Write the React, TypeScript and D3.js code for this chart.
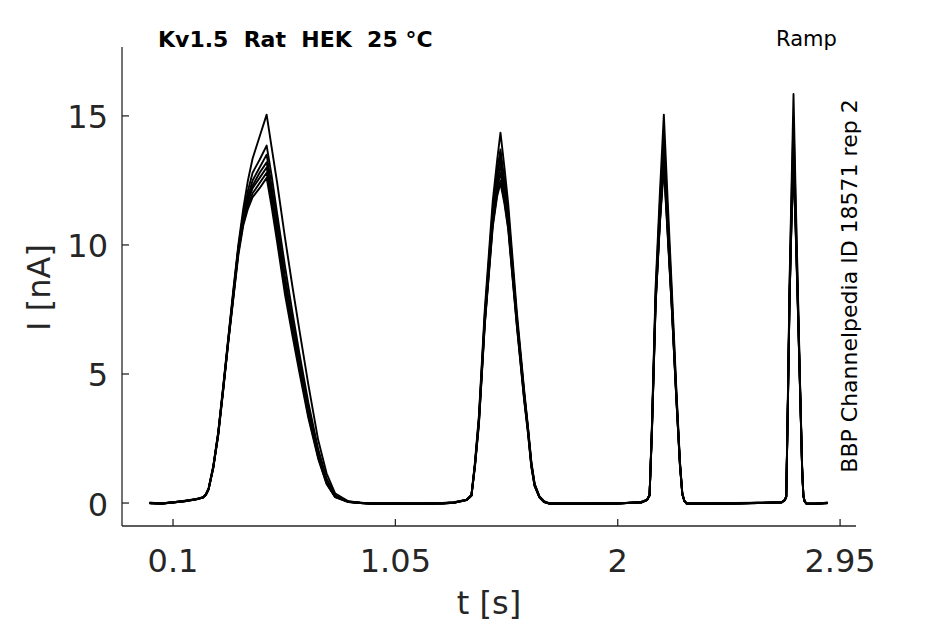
import React from "react";
import * as d3 from "d3";

const timeS = [
  0.0, 0.05, 0.1, 0.15, 0.2, 0.228, 0.24, 0.252, 0.272, 0.293, 0.315, 0.336, 0.358, 0.379, 0.4, 0.42, 0.44, 0.47, 0.5, 0.521, 0.545, 0.578, 0.61, 0.64, 0.678, 0.72, 0.756, 0.792, 0.849, 0.9, 0.95,
  1.05, 1.15, 1.25, 1.3, 1.354, 1.375, 1.39, 1.407, 1.432, 1.466, 1.485, 1.499, 1.516, 1.532, 1.569, 1.6, 1.616, 1.631, 1.645, 1.665, 1.685, 1.71,
  1.8, 1.9, 2.0, 2.1, 2.125, 2.136, 2.146, 2.162, 2.18, 2.197, 2.212, 2.23, 2.25, 2.266, 2.276, 2.285, 2.295,
  2.4, 2.5, 2.6, 2.7, 2.714, 2.72, 2.727, 2.734, 2.742, 2.751, 2.76, 2.769, 2.78, 2.788, 2.793, 2.798, 2.806, 2.85, 2.897,
];

const sweep1 = [
  0.01, -0.01, 0.02, 0.09, 0.16, 0.23, 0.34, 0.58, 1.45, 2.75, 4.6, 6.4, 8.3, 10.0, 11.4, 12.5, 13.35, 14.2, 15.05, 13.8, 12.4, 10.3, 8.4, 6.7, 4.6, 2.45, 1.15, 0.38, 0.07, 0.01, -0.01,
  -0.01, -0.02, 0.0, 0.03, 0.13, 0.32, 1.6, 3.4, 7.5, 11.7, 13.3, 14.35, 13.0, 11.6, 7.4, 4.4, 3.0, 1.6, 0.75, 0.27, 0.07, -0.01,
  -0.02, -0.01, -0.02, 0.04, 0.13, 0.32, 3.0, 8.4, 12.0, 15.05, 12.0, 8.5, 4.5, 1.6, 0.38, 0.09, -0.01,
  -0.01, 0.0, 0.01, 0.04, 0.13, 0.27, 4.2, 8.5, 12.0, 15.85, 12.0, 8.5, 4.3, 1.4, 0.32, 0.09, -0.01, -0.02, 0.01,
];
const sweep2 = [
  0.0, -0.03, 0.02, 0.07, 0.14, 0.21, 0.31, 0.54, 1.38, 2.7, 4.5, 6.35, 8.2, 9.9, 11.2, 12.1, 12.8, 13.3, 13.85, 12.7, 11.2, 9.2, 7.4, 5.8, 3.9, 2.1, 0.95, 0.31, 0.06, 0.0, -0.03,
  -0.03, -0.02, -0.02, 0.01, 0.11, 0.29, 1.5, 3.3, 7.3, 11.4, 12.9, 13.7, 12.5, 11.3, 7.2, 4.3, 2.95, 1.55, 0.72, 0.26, 0.05, -0.03,
  -0.02, -0.03, -0.01, 0.02, 0.11, 0.31, 2.9, 8.2, 11.6, 14.3, 11.5, 8.2, 4.35, 1.55, 0.36, 0.07, -0.03,
  -0.03, -0.02, 0.0, 0.02, 0.11, 0.26, 4.0, 8.3, 11.6, 14.9, 11.5, 8.3, 4.2, 1.35, 0.31, 0.07, -0.03, -0.02, -0.01,
];
const sweep3 = [
  -0.01, -0.02, 0.03, 0.08, 0.15, 0.22, 0.32, 0.55, 1.4, 2.7, 4.5, 6.3, 8.15, 9.85, 11.1, 11.9, 12.5, 13.0, 13.5, 12.3, 10.9, 8.8, 7.1, 5.55, 3.7, 1.95, 0.85, 0.28, 0.05, 0.01, -0.02,
  -0.02, -0.03, -0.01, 0.02, 0.12, 0.3, 1.5, 3.25, 7.2, 11.2, 12.7, 13.4, 12.3, 11.1, 7.15, 4.25, 2.9, 1.5, 0.7, 0.25, 0.05, -0.02,
  -0.03, -0.02, -0.02, 0.03, 0.12, 0.3, 2.85, 8.0, 11.3, 13.9, 11.2, 8.0, 4.25, 1.5, 0.35, 0.08, -0.02,
  -0.02, -0.01, 0.0, 0.03, 0.12, 0.25, 3.95, 8.1, 11.2, 14.2, 11.1, 8.0, 4.15, 1.3, 0.3, 0.08, -0.02, -0.03, 0.0,
];
const sweep4 = [
  0.0, -0.02, 0.03, 0.08, 0.15, 0.22, 0.32, 0.55, 1.4, 2.7, 4.5, 6.3, 8.1, 9.8, 11.0, 11.7, 12.2, 12.6, 13.0, 11.9, 10.5, 8.5, 6.8, 5.3, 3.5, 1.85, 0.8, 0.26, 0.05, 0.0, -0.02,
  -0.02, -0.03, -0.01, 0.02, 0.12, 0.3, 1.5, 3.2, 7.1, 11.0, 12.4, 13.1, 12.1, 11.0, 7.1, 4.2, 2.9, 1.5, 0.7, 0.25, 0.06, -0.02,
  -0.03, -0.02, -0.02, 0.03, 0.12, 0.3, 2.8, 7.9, 11.0, 13.6, 11.0, 7.9, 4.2, 1.5, 0.35, 0.08, -0.02,
  -0.02, -0.01, 0.0, 0.03, 0.12, 0.25, 3.9, 7.9, 10.9, 13.5, 10.8, 7.9, 4.1, 1.3, 0.3, 0.08, -0.02, -0.03, 0.0,
];
const sweep5 = [
  0.01, -0.02, 0.02, 0.07, 0.14, 0.21, 0.31, 0.53, 1.37, 2.65, 4.45, 6.25, 8.05, 9.75, 10.95, 11.75, 12.3, 12.8, 13.2, 12.0, 10.6, 8.55, 6.85, 5.35, 3.55, 1.88, 0.8, 0.26, 0.05, 0.0, -0.03,
  -0.03, -0.02, -0.02, 0.01, 0.11, 0.29, 1.45, 3.15, 7.0, 10.9, 12.2, 12.8, 11.9, 10.8, 7.0, 4.1, 2.85, 1.45, 0.68, 0.24, 0.05, -0.03,
  -0.02, -0.03, -0.01, 0.02, 0.11, 0.29, 2.75, 7.8, 10.9, 13.3, 10.8, 7.8, 4.15, 1.45, 0.34, 0.07, -0.03,
  -0.03, -0.02, 0.01, 0.02, 0.11, 0.24, 3.85, 7.85, 10.8, 13.2, 10.7, 7.8, 4.05, 1.28, 0.29, 0.07, -0.03, -0.02, 0.01,
];
const sweep6 = [
  0.0, -0.03, 0.03, 0.08, 0.15, 0.22, 0.32, 0.54, 1.38, 2.65, 4.45, 6.25, 8.0, 9.7, 10.85, 11.55, 12.0, 12.4, 12.8, 11.7, 10.3, 8.3, 6.65, 5.2, 3.4, 1.78, 0.76, 0.24, 0.04, 0.0, -0.02,
  -0.02, -0.03, -0.01, 0.02, 0.12, 0.3, 1.45, 3.1, 6.95, 10.8, 12.0, 12.5, 11.7, 10.7, 6.9, 4.05, 2.8, 1.4, 0.66, 0.23, 0.04, -0.02,
  -0.03, -0.02, -0.02, 0.03, 0.12, 0.29, 2.7, 7.7, 10.8, 13.0, 10.6, 7.7, 4.1, 1.42, 0.33, 0.07, -0.02,
  -0.02, -0.03, 0.0, 0.03, 0.12, 0.24, 3.8, 7.8, 10.7, 13.0, 10.6, 7.7, 4.0, 1.25, 0.28, 0.07, -0.02, -0.03, 0.0,
];
const sweep7 = [
  -0.01, -0.02, 0.02, 0.07, 0.14, 0.21, 0.31, 0.53, 1.35, 2.6, 4.4, 6.2, 7.95, 9.6, 10.75, 11.4, 11.85, 12.2, 12.6, 11.5, 10.1, 8.1, 6.5, 5.05, 3.3, 1.72, 0.74, 0.23, 0.04, 0.01, -0.03,
  -0.03, -0.02, -0.02, 0.01, 0.11, 0.28, 1.4, 3.05, 6.9, 10.7, 11.9, 12.4, 11.6, 10.6, 6.85, 4.0, 2.75, 1.4, 0.65, 0.22, 0.04, -0.03,
  -0.02, -0.03, -0.01, 0.02, 0.11, 0.3, 2.75, 7.75, 10.9, 13.2, 10.7, 7.75, 4.1, 1.43, 0.33, 0.07, -0.03,
  -0.03, -0.02, 0.01, 0.02, 0.11, 0.25, 3.85, 7.85, 10.9, 13.7, 10.9, 7.85, 4.05, 1.27, 0.29, 0.07, -0.03, -0.02, 0.01,
];

const sweeps = [sweep1, sweep2, sweep3, sweep4, sweep5, sweep6, sweep7];

const xTicks = [0.1, 1.05, 2, 2.95];
const xTickLabels = ["0.1", "1.05", "2", "2.95"];
const yTicks = [0, 5, 10, 15];
const yTickLabels = ["0", "5", "10", "15"];

const titleText = "Kv1.5  Rat  HEK  25 °C";
const protocolText = "Ramp";
const sideText = "BBP Channelpedia ID 18571 rep 2";
const xLabel = "t [s]";
const yLabel = "I [nA]";

const W = 945;
const H = 624;
const left = 122;
const right = 856;
const top = 47;
const bottom = 526;
const axisColor = "#262626";
const font = "'DejaVu Sans', sans-serif";

export default function App() {
  const x = d3.scaleLinear().domain([-0.118, 3.018]).range([left, right]);
  const y = d3.scaleLinear().domain([-0.89, 17.67]).range([bottom, top]);
  const line = d3
    .line<number>()
    .x((_, i) => x(timeS[i]))
    .y((d) => y(d))
    .curve(d3.curveLinear);

  return (
    <svg
      width={W}
      height={H}
      style={{ position: "absolute", left: 0, top: 0, background: "#fff" }}
      fontFamily={font}
    >
      <rect x={0} y={0} width={W} height={H} fill="#fff" />
      {sweeps.map((s, k) => (
        <path key={k} d={line(s) || ""} fill="none" stroke="#000" strokeWidth={1.9} strokeLinejoin="round" />
      ))}
      <line x1={left} x2={right} y1={bottom} y2={bottom} stroke={axisColor} strokeWidth={1.3} />
      <line x1={left} x2={left} y1={top} y2={bottom} stroke={axisColor} strokeWidth={1.3} />
      {xTicks.map((t, i) => (
        <g key={"xt" + i}>
          <line x1={x(t)} x2={x(t)} y1={bottom} y2={bottom - 7} stroke={axisColor} strokeWidth={1.3} />
          <text x={x(t)} y={572} textAnchor="middle" fontSize={32} fill={axisColor}>
            {xTickLabels[i]}
          </text>
        </g>
      ))}
      {yTicks.map((v, i) => (
        <g key={"yt" + i}>
          <line x1={left} x2={left + 7} y1={y(v)} y2={y(v)} stroke={axisColor} strokeWidth={1.3} />
          <text x={108} y={y(v) + 12.5} textAnchor="end" fontSize={32} fill={axisColor}>
            {yTickLabels[i]}
          </text>
        </g>
      ))}
      <text x={(left + right) / 2} y={614} textAnchor="middle" fontSize={32} fill={axisColor}>
        {xLabel}
      </text>
      <text
        transform={`translate(50,${(top + bottom) / 2 + 1}) rotate(-90)`}
        textAnchor="middle"
        fontSize={32}
        fill={axisColor}
      >
        {yLabel}
      </text>
      <text x={158} y={47} fontSize={22} fontWeight="bold" fill="#000" style={{ whiteSpace: "pre" }}>
        {titleText}
      </text>
      <text x={776} y={46} fontSize={21} fill="#000">
        {protocolText}
      </text>
      <text
        transform={`translate(857,${286}) rotate(-90)`}
        textAnchor="middle"
        fontSize={22}
        fill="#000"
      >
        {sideText}
      </text>
    </svg>
  );
}
